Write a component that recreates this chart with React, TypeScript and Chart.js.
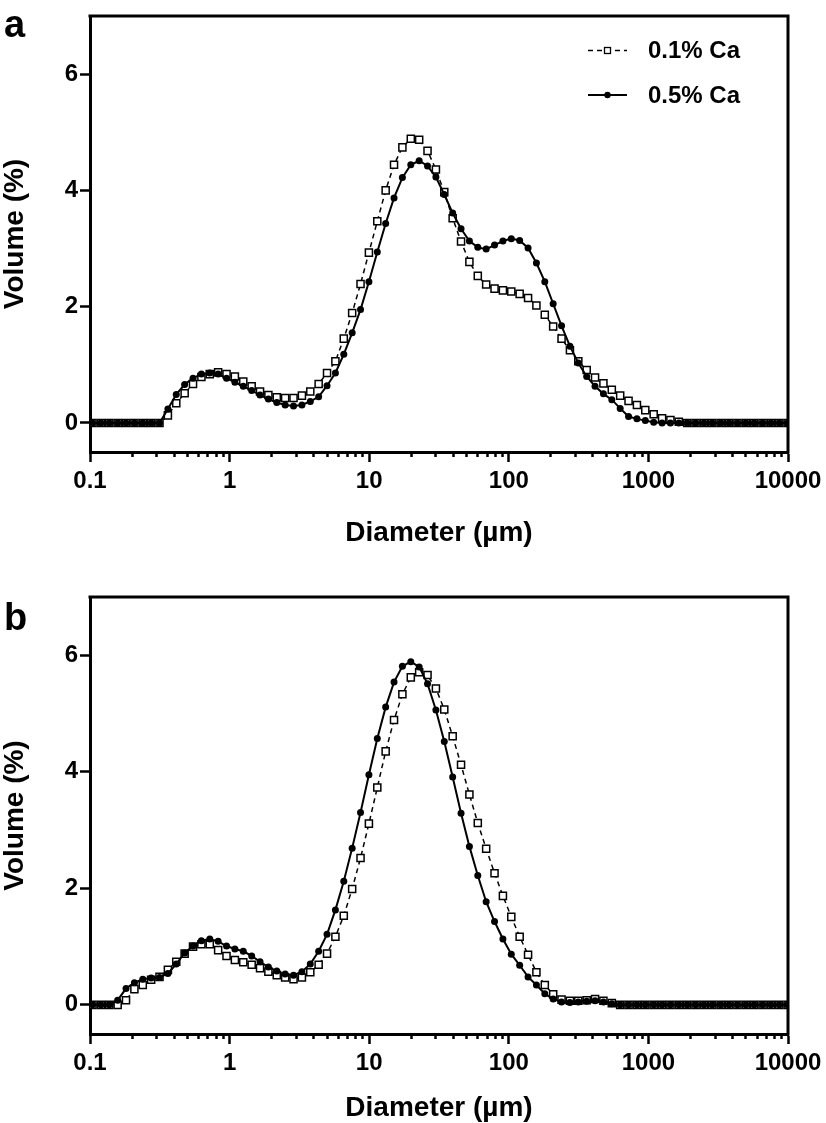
import React, { useEffect, useRef } from 'react';
import { Chart, registerables } from 'chart.js';

Chart.register(...registerables);

// Instrument size classes (µm)
const DIAMETERS = [
  0.1042, 0.1197, 0.1374, 0.1578, 0.1811, 0.2080, 0.2388, 0.2741, 0.3147, 0.3614,
  0.4149, 0.4764, 0.5470, 0.6280, 0.7210, 0.8278, 0.9505, 1.091, 1.253, 1.439,
  1.652, 1.896, 2.177, 2.500, 2.870, 3.296, 3.784, 4.344, 4.988, 5.727,
  6.575, 7.550, 8.668, 9.952, 11.43, 13.12, 15.06, 17.29, 19.86, 22.80,
  26.17, 30.05, 34.50, 39.62, 45.49, 52.22, 59.96, 68.84, 79.04, 90.75,
  104.2, 119.6, 137.4, 157.7, 181.1, 207.9, 238.7, 274.1, 314.7, 361.3,
  414.8, 476.3, 546.8, 627.8, 720.8, 827.6, 950.2, 1091, 1253, 1438,
  1651, 1896, 2177, 2499, 2869, 3295, 3783, 4343, 4986, 5725,
  6573, 7547, 8665, 9949,
];

// Panel a, 0.1% Ca (open squares)
const A_LOW = [
  0, 0, 0, 0, 0, 0, 0, 0, 0, 0.13,
  0.34, 0.51, 0.67, 0.79, 0.84, 0.87, 0.84, 0.80, 0.71, 0.63,
  0.54, 0.48, 0.44, 0.43, 0.43, 0.47, 0.54, 0.67, 0.86, 1.06,
  1.45, 1.89, 2.39, 2.93, 3.47, 4.00, 4.44, 4.74, 4.89, 4.87,
  4.68, 4.36, 3.97, 3.52, 3.12, 2.77, 2.53, 2.38, 2.31, 2.28,
  2.26, 2.22, 2.15, 2.02, 1.86, 1.66, 1.45, 1.25, 1.06, 0.91,
  0.78, 0.68, 0.57, 0.47, 0.38, 0.31, 0.22, 0.15, 0.08, 0.05,
  0.02, 0, 0, 0, 0, 0, 0, 0, 0, 0,
  0, 0, 0, 0,
];

// Panel a, 0.5% Ca (filled circles)
const A_HIGH = [
  0, 0, 0, 0, 0, 0, 0, 0, 0, 0.24,
  0.49, 0.66, 0.77, 0.84, 0.86, 0.84, 0.77, 0.70, 0.63, 0.56,
  0.48, 0.41, 0.35, 0.31, 0.29, 0.31, 0.37, 0.45, 0.64, 0.86,
  1.18, 1.55, 1.95, 2.43, 2.94, 3.43, 3.87, 4.22, 4.44, 4.51,
  4.42, 4.23, 3.93, 3.61, 3.34, 3.13, 3.02, 2.99, 3.06, 3.13,
  3.17, 3.14, 3.01, 2.75, 2.43, 2.05, 1.67, 1.32, 1.03, 0.80,
  0.63, 0.50, 0.40, 0.25, 0.11, 0.07, 0.04, 0.01, 0, 0,
  0, 0, 0, 0, 0, 0, 0, 0, 0, 0,
  0, 0, 0, 0,
];

// Panel b, 0.1% Ca (open squares)
const B_LOW = [
  0, 0, 0, 0, 0.08, 0.27, 0.34, 0.43, 0.48, 0.60,
  0.74, 0.88, 1.00, 1.04, 1.04, 0.94, 0.84, 0.77, 0.73, 0.69,
  0.63, 0.57, 0.51, 0.47, 0.44, 0.47, 0.56, 0.69, 0.88, 1.17,
  1.53, 1.99, 2.52, 3.11, 3.73, 4.35, 4.89, 5.33, 5.62, 5.71,
  5.66, 5.43, 5.07, 4.61, 4.12, 3.61, 3.12, 2.68, 2.26, 1.87,
  1.51, 1.17, 0.86, 0.56, 0.34, 0.18, 0.09, 0.07, 0.07, 0.08,
  0.10, 0.07, 0.03, 0, 0, 0, 0, 0, 0, 0,
  0, 0, 0, 0, 0, 0, 0, 0, 0, 0,
  0, 0, 0, 0,
];

// Panel b, 0.5% Ca (filled circles)
const B_HIGH = [
  0, 0, 0, 0.08, 0.28, 0.38, 0.44, 0.46, 0.47, 0.54,
  0.70, 0.89, 1.01, 1.10, 1.13, 1.09, 1.01, 0.96, 0.92, 0.84,
  0.74, 0.65, 0.58, 0.53, 0.51, 0.57, 0.70, 0.92, 1.21, 1.63,
  2.12, 2.69, 3.30, 3.95, 4.57, 5.11, 5.54, 5.81, 5.89, 5.80,
  5.51, 5.06, 4.52, 3.91, 3.29, 2.72, 2.22, 1.77, 1.43, 1.13,
  0.87, 0.68, 0.48, 0.34, 0.19, 0.10, 0.05, 0.04, 0.05, 0.06,
  0.07, 0.05, 0.02, 0, 0, 0, 0, 0, 0, 0,
  0, 0, 0, 0, 0, 0, 0, 0, 0, 0,
  0, 0, 0, 0,
];

const SERIES_LABELS = ['0.1% Ca', '0.5% Ca'];
const PANEL_LETTERS = ['a', 'b'];

const X_TICKS = [0.1, 1, 10, 100, 1000, 10000];
const X_TICK_LABELS = ['0.1', '1', '10', '100', '1000', '10000'];
const X_MINOR_TICKS = [
  0.2, 0.3, 0.4, 0.5, 0.6, 0.7, 0.8, 0.9,
  2, 3, 4, 5, 6, 7, 8, 9,
  20, 30, 40, 50, 60, 70, 80, 90,
  200, 300, 400, 500, 600, 700, 800, 900,
  2000, 3000, 4000, 5000, 6000, 7000, 8000, 9000,
];
const Y_TICKS = [0, 2, 4, 6];
const Y_TICK_LABELS = ['0', '2', '4', '6'];
const X_TITLE = 'Diameter (µm)';
const Y_TITLE = 'Volume (%)';

const FONT = "'Liberation Sans', Arial, Helvetica, sans-serif";
const W = 826;

interface PanelCfg {
  letter: string;
  low: number[];
  high: number[];
  top: number;
  height: number;
  padTop: number;
  xAxisHeight: number;
  titlePadBottom: number;
  letterBaseline: number;
  legend: boolean;
}

const PANELS: PanelCfg[] = [
  {
    letter: PANEL_LETTERS[0], low: A_LOW, high: A_HIGH,
    top: 0, height: 560, padTop: 16, xAxisHeight: 108, titlePadBottom: 12.5,
    letterBaseline: 37, legend: true,
  },
  {
    letter: PANEL_LETTERS[1], low: B_LOW, high: B_HIGH,
    top: 560, height: 563, padTop: 37, xAxisHeight: 89, titlePadBottom: 1,
    letterBaseline: 70, legend: false,
  },
];

function makeConfig(p: PanelCfg): any {
  const toPts = (vals: number[]) => DIAMETERS.map((d, i) => ({ x: d, y: vals[i] }));

  const decorPlugin = {
    id: 'decor',
    afterDraw(chart: any) {
      const { ctx, chartArea } = chart;
      ctx.save();
      // frame top + right
      ctx.strokeStyle = '#000';
      ctx.lineWidth = 3;
      ctx.lineCap = 'square';
      ctx.beginPath();
      ctx.moveTo(chartArea.left, chartArea.top);
      ctx.lineTo(chartArea.right, chartArea.top);
      ctx.lineTo(chartArea.right, chartArea.bottom);
      ctx.stroke();
      // panel letter
      ctx.fillStyle = '#000';
      ctx.font = `bold 38px ${FONT}`;
      ctx.textAlign = 'left';
      ctx.textBaseline = 'alphabetic';
      ctx.fillText(p.letter, 4, p.letterBaseline);
      // legend
      if (p.legend) {
        const ds = chart.data.datasets;
        const rowsY = [chartArea.top + 34.5, chartArea.top + 79];
        const x0 = chartArea.right - 200;
        const x1 = chartArea.right - 161;
        const xm = (x0 + x1) / 2;
        ds.forEach((d: any, i: number) => {
          const y = rowsY[i];
          ctx.save();
          ctx.strokeStyle = '#000';
          ctx.lineCap = 'butt';
          ctx.lineWidth = d.borderWidth;
          ctx.setLineDash(d.borderDash || []);
          ctx.beginPath();
          ctx.moveTo(x0, y);
          ctx.lineTo(x1, y);
          ctx.stroke();
          ctx.setLineDash([]);
          if (d.pointStyle === 'rect') {
            const s = 6;
            ctx.fillStyle = '#fff';
            ctx.fillRect(xm - s / 2, y - s / 2, s, s);
            ctx.lineWidth = 1.3;
            ctx.strokeRect(xm - s / 2, y - s / 2, s, s);
          } else {
            ctx.fillStyle = '#000';
            ctx.beginPath();
            ctx.arc(xm, y, 3.2, 0, Math.PI * 2);
            ctx.fill();
          }
          ctx.fillStyle = '#000';
          ctx.font = `bold 24px ${FONT}`;
          ctx.textAlign = 'left';
          ctx.textBaseline = 'middle';
          ctx.fillText(d.label, chartArea.right - 140, y + 1);
          ctx.restore();
        });
      }
      ctx.restore();
    },
  };

  return {
    type: 'line',
    data: {
      datasets: [
        {
          label: SERIES_LABELS[0],
          data: toPts(p.low),
          borderColor: '#000',
          borderWidth: 1.5,
          borderDash: [5, 4],
          pointStyle: 'rect',
          pointRadius: 5,
          pointBackgroundColor: '#fff',
          pointBorderColor: '#000',
          pointBorderWidth: 1.5,
          tension: 0,
          fill: false,
          order: 1,
          xAxisID: 'x',
          yAxisID: 'y',
        },
        {
          label: SERIES_LABELS[1],
          data: toPts(p.high),
          borderColor: '#000',
          borderWidth: 2,
          pointStyle: 'circle',
          pointRadius: 3.5,
          pointBackgroundColor: '#000',
          pointBorderColor: '#000',
          pointBorderWidth: 0,
          tension: 0,
          fill: false,
          order: 0,
          xAxisID: 'x',
          yAxisID: 'y',
        },
      ],
    },
    options: {
      responsive: false,
      animation: false,
      events: [],
      devicePixelRatio: 1,
      layout: { padding: { left: 0, right: 38, top: p.padTop, bottom: 0 } },
      plugins: { legend: { display: false }, tooltip: { enabled: false }, title: { display: false } },
      scales: {
        xm: {
          type: 'logarithmic',
          position: 'bottom',
          weight: 0,
          min: 0.1,
          max: 10000,
          display: true,
          afterBuildTicks: (s: any) => { s.ticks = X_MINOR_TICKS.map((v) => ({ value: v })); },
          afterFit: (s: any) => { s.height = 0; s.paddingLeft = 0; s.paddingRight = 0; },
          ticks: { display: false, autoSkip: false },
          grid: { display: true, drawOnChartArea: false, drawTicks: true, tickLength: 5, tickWidth: 2.5, tickColor: '#000' },
          border: { display: false },
        },
        x: {
          type: 'logarithmic',
          position: 'bottom',
          weight: 1,
          min: 0.1,
          max: 10000,
          afterBuildTicks: (s: any) => { s.ticks = X_TICKS.map((v) => ({ value: v, major: true })); },
          afterFit: (s: any) => { s.height = p.xAxisHeight; s.paddingLeft = 0; s.paddingRight = 0; },
          ticks: {
            autoSkip: false,
            maxRotation: 0,
            minRotation: 0,
            padding: 5,
            color: '#000',
            font: { family: FONT, size: 24, weight: 'bold', lineHeight: 1.2 },
            callback: (_v: any, i: number) => X_TICK_LABELS[i],
          },
          grid: { display: true, drawOnChartArea: false, drawTicks: true, tickLength: 10, tickWidth: 2.5, tickColor: '#000' },
          border: { display: true, width: 3, color: '#000' },
          title: {
            display: true,
            text: X_TITLE,
            color: '#000',
            font: { family: FONT, size: 28, weight: 'bold', lineHeight: 1 },
            padding: { top: 0, bottom: p.titlePadBottom },
          },
        },
        y: {
          type: 'linear',
          position: 'left',
          min: -0.5,
          max: 7,
          afterBuildTicks: (s: any) => { s.ticks = Y_TICKS.map((v) => ({ value: v })); },
          afterFit: (s: any) => { s.width = 90; s.paddingTop = 0; s.paddingBottom = 0; },
          ticks: {
            padding: 2,
            color: '#000',
            font: { family: FONT, size: 24, weight: 'bold', lineHeight: 1.2 },
            callback: (_v: any, i: number) => Y_TICK_LABELS[i],
          },
          grid: { display: true, drawOnChartArea: false, drawTicks: true, tickLength: 10, tickWidth: 2.5, tickColor: '#000' },
          border: { display: true, width: 3, color: '#000' },
          title: {
            display: true,
            text: Y_TITLE,
            color: '#000',
            font: { family: FONT, size: 28, weight: 'bold', lineHeight: 1 },
            padding: { top: 1, bottom: 0 },
          },
        },
      },
    },
    plugins: [decorPlugin],
  };
}

function Panel({ cfg }: { cfg: PanelCfg }) {
  const ref = useRef<HTMLCanvasElement>(null);
  useEffect(() => {
    if (!ref.current) return;
    const chart = new Chart(ref.current, makeConfig(cfg));
    return () => chart.destroy();
  }, [cfg]);
  return (
    <canvas
      ref={ref}
      width={W}
      height={cfg.height}
      style={{ position: 'absolute', left: 0, top: cfg.top, width: W, height: cfg.height, display: 'block' }}
    />
  );
}

export default function App() {
  return (
    <div style={{ position: 'absolute', left: 0, top: 0, width: W, height: 1123, background: '#fff', overflow: 'hidden' }}>
      {PANELS.map((p) => (
        <Panel key={p.letter} cfg={p} />
      ))}
    </div>
  );
}
